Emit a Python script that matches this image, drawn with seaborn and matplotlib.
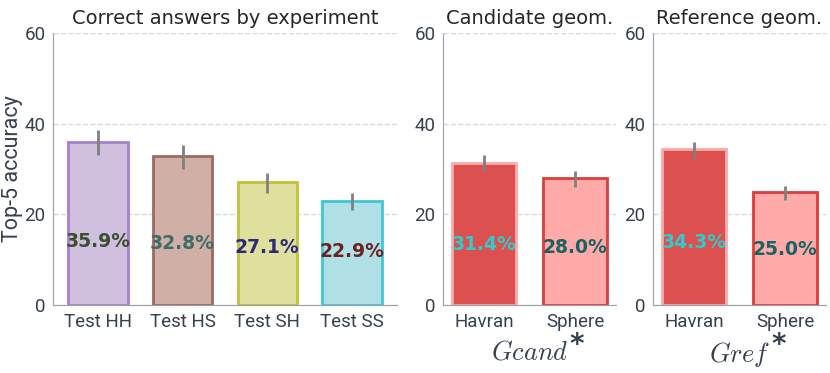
import seaborn as sns
import matplotlib.pyplot as plt

# data
exp_names = ["Test HH", "Test HS", "Test SH", "Test SS"]
exp_acc = [35.9, 32.8, 27.1, 22.9]
exp_lo = [33.1, 30.0, 24.7, 21.0]
exp_hi = [38.6, 35.3, 29.1, 24.7]

geom_names = ["Havran", "Sphere"]
cand_acc = [31.4, 28.0]
cand_lo = [29.6, 26.0]
cand_hi = [33.1, 29.6]
ref_acc = [34.3, 25.0]
ref_lo = [32.2, 23.2]
ref_hi = [36.0, 26.3]

exp_fill = ["#d1bfdf", "#cfafa6", "#e0e09e", "#b0e0e6"]
exp_edge = ["#a87fcf", "#9c6a60", "#c2c23a", "#3cc8d8"]
exp_text = ["#3a4f2e", "#3f6b6b", "#2a2a78", "#6a2222"]

geom_fill = ["#dc5050", "#fdaaa9"]
geom_edge = ["#f6abab", "#dc3c3c"]
geom_text = ["#2ecccc", "#1a6262"]

sns.set_style("white")
plt.rcParams["font.family"] = ["Roboto", "DejaVu Sans"]
plt.rcParams["mathtext.fontset"] = "cm"
tick_col = "#36404f"

fig = plt.figure(figsize=(8.3, 3.73), dpi=100)
ax1 = fig.add_axes([0.064, 0.182, 0.414, 0.73])
ax2 = fig.add_axes([0.534, 0.182, 0.208, 0.73])
ax3 = fig.add_axes([0.787, 0.182, 0.208, 0.73])


def draw(ax, names, vals, lo, hi, fills, edges, tcols, title, xlabel, pad):
    sns.barplot(x=names, y=vals, hue=names, palette=fills, legend=False,
                width=0.7, saturation=1, ax=ax, zorder=2)
    for p, ec in zip(ax.patches, edges):
        p.set_edgecolor(ec)
        p.set_linewidth(2)
    ax.vlines(range(len(names)), lo, hi, color="#808080", lw=2, zorder=3)
    for i, v in enumerate(vals):
        ax.text(i, 8 + 0.17 * v, f"{v:.1f}%", ha="center", va="center",
                fontsize=13.5, fontweight="bold", color=tcols[i],
                family="DejaVu Sans", zorder=4)
    ax.set_ylim(0, 60)
    ax.set_yticks([0, 20, 40, 60])
    ax.set_xlim(-pad, len(names) - 1 + pad)
    ax.yaxis.grid(True, ls="--", color="#d9d9d9", lw=1)
    ax.set_axisbelow(True)
    sns.despine(ax=ax)
    ax.spines["left"].set_color("#9aa0a8")
    ax.spines["bottom"].set_color("#9aa0a8")
    ax.tick_params(axis="both", labelsize=13.5, colors=tick_col, length=4,
                   color="#9aa0a8", pad=1.5)
    ax.set_title(title, fontsize=14, family="DejaVu Sans", pad=6)
    ax.set_xlabel(xlabel, fontsize=19, color="#36404f", labelpad=7)


draw(ax1, exp_names, exp_acc, exp_lo, exp_hi, exp_fill, exp_edge, exp_text,
     "Correct answers by experiment", "", 0.53)
ax1.set_ylabel("Top-5 accuracy", fontsize=15.5, color=tick_col, labelpad=1)
draw(ax2, geom_names, cand_acc, cand_lo, cand_hi, geom_fill, geom_edge, geom_text,
     "Candidate geom.", r"$Gcand$", 0.45)
draw(ax3, geom_names, ref_acc, ref_lo, ref_hi, geom_fill, geom_edge, geom_text,
     "Reference geom.", r"$Gref$", 0.45)
ax2.set_ylabel("")
ax3.set_ylabel("")

# big bold asterisk after the math labels
fig.canvas.draw()
for ax in (ax2, ax3):
    bb = ax.xaxis.label.get_window_extent()
    x, y = fig.transFigure.inverted().transform((bb.x1 + 1, bb.y1 - 5))
    fig.text(x, y, "*", fontsize=20, fontweight="bold", color="#36404f",
             family="DejaVu Sans", ha="left", va="center")

fig.savefig("out.png", dpi=100)
